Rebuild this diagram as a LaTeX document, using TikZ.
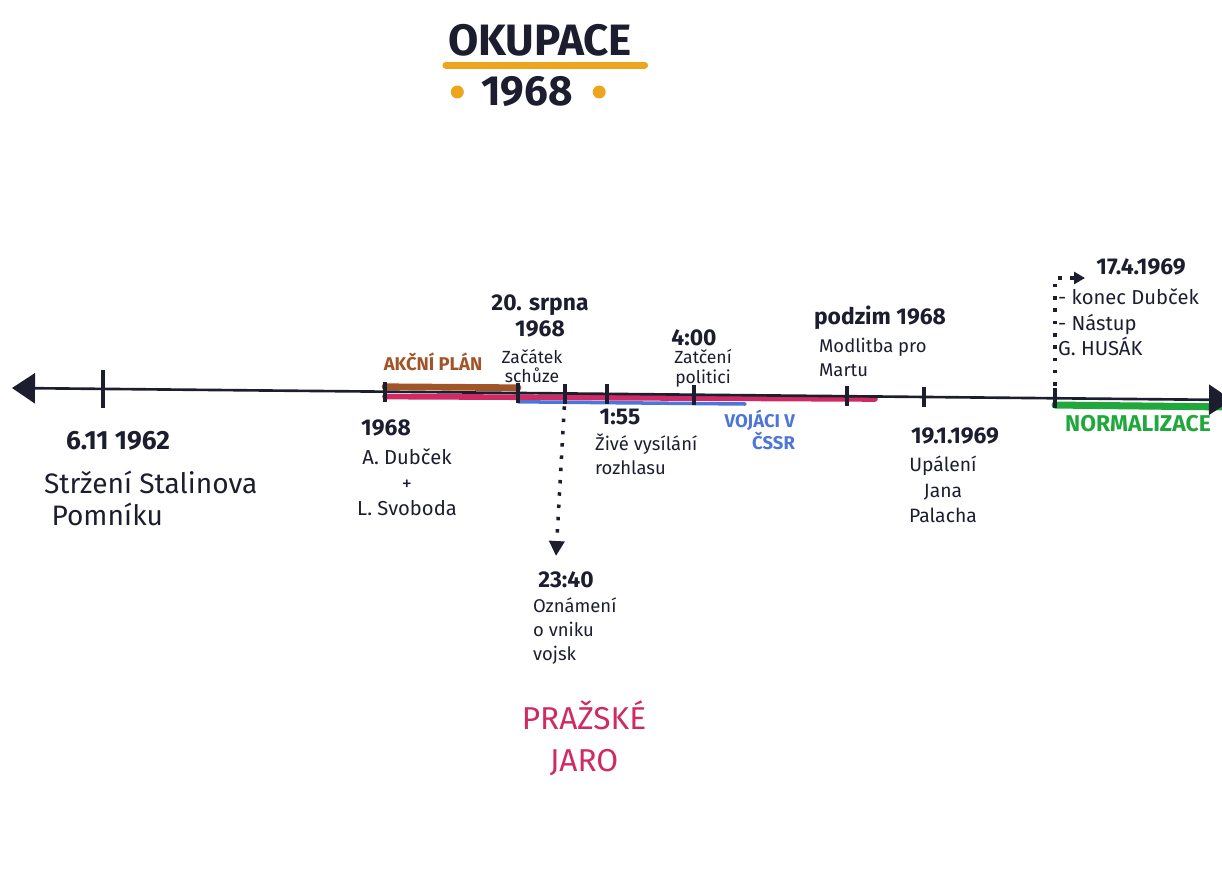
\documentclass[tikz,border=0pt]{standalone}
\usepackage{fontspec}
\setmainfont{Fira Sans}
\usetikzlibrary{arrows.meta,positioning}

\definecolor{inkoust}{RGB}{28,30,48}
\definecolor{hneda}{RGB}{160,84,40}
\definecolor{ruzova}{RGB}{208,42,100}
\definecolor{modra}{RGB}{78,118,218}
\definecolor{zelena}{RGB}{32,168,60}
\definecolor{oranzova}{RGB}{238,165,30}

\begin{document}
\begin{tikzpicture}[
    x=0.02cm, y=-0.02cm,
    every node/.style={text=inkoust, inner sep=1pt},
    titul/.style={font=\fontsize{26}{30}\selectfont},
    datum/.style={font=\bfseries\fontsize{13}{15}\selectfont, align=center},
    popis/.style={font=\fontsize{10.5}{13.5}\selectfont, align=left},
    ryska/.style={fill=inkoust, inner sep=0pt, minimum width=0.08cm, minimum height=0.4cm},
    tecka/.style={circle, fill=oranzova, inner sep=0pt, minimum size=0.26cm},
    osa/.style={line width=1.5pt, draw=inkoust,
        {Triangle[length=0.46cm,width=0.6cm]}-{Triangle[length=0.46cm,width=0.6cm]}},
    pruh/.style={line width=#1, line cap=round},
    tecky/.style={line width=2pt, draw=inkoust, dash pattern=on 2pt off 5pt,
        -{Triangle[length=0.3cm,width=0.3cm]}}
]
\useasboundingbox (0,0) rectangle (1222,895);

% Title
\node[titul, font=\bfseries\fontsize{25}{30}\selectfont] (okupace) at (540,40) {OKUPACE};
\draw[oranzova, pruh=4pt] ([yshift=-4pt]okupace.south west) -- ([xshift=6pt,yshift=-4pt]okupace.south east);
\node[titul, font=\bfseries\fontsize{24}{28}\selectfont] (rok) at (527,92) {1968};
\node[tecka, left=0.3cm of rok] (tecka1) {};
\node[tecka, right=0.35cm of rok] (tecka2) {};

% Points on the axis
\coordinate (t62)   at (103,389);
\coordinate (t68)   at (385,392);
\coordinate (tsrp)  at (518,393);
\coordinate (t2340) at (565,394);
\coordinate (t155)  at (607,394);
\coordinate (t400)  at (694,395);
\coordinate (tpod)  at (847,396);
\coordinate (t1969) at (924,397);
\coordinate (t1704) at (1055,398);

\coordinate (osa0) at (12,388);
\coordinate (osa1) at (1232,400);
\coordinate (konecjaro) at (875,399);
\coordinate (konecvoj) at (745,404);

% Periods (drawn under the axis)
\draw[hneda, pruh=3.8pt] ([yshift=3pt]t68) -- ([yshift=3pt]tsrp);
\draw[ruzova, pruh=3.2pt] ([yshift=-2.6pt]t68) -- (konecjaro);
\draw[modra, pruh=2pt] ([yshift=-5pt]tsrp) -- (konecvoj);
\draw[zelena, pruh=4pt] ([yshift=-4pt]t1704) -- ([yshift=-4pt]osa1);

% Axis and ticks
\draw[osa] (osa0) -- (osa1);
\foreach \t in {t68,tsrp,t2340,t155,t400,tpod,t1969,t1704}
    \node[ryska] at (\t) {};
\node[ryska, minimum height=0.76cm] at (t62) {};

% 1962
\node[datum, font=\bfseries\fontsize{15}{18}\selectfont] (d62) at (118,441) {6.11 1962};
\node[popis, font=\fontsize{16}{18}\selectfont, anchor=north west] (p62) at (42,469) {Stržení Stalinova\\\ Pomníku};

% 1968
\node[datum] (d68) at (386,428) {1968};
\node[popis, font=\fontsize{11.5}{14.5}\selectfont, align=center, anchor=north] (p68) at (407,447) {A. Dubček\\+\\L. Svoboda};
\node[font=\bfseries\fontsize{10.5}{12}\selectfont, text=hneda] (plan) at (433,362) {AKČNÍ PLÁN};

% 20. srpna 1968
\node[datum] (dsrp) at (540,316) {20. srpna\\1968};
\node[popis, font=\fontsize{10}{11}\selectfont, align=center] (psrp) at (532,366) {Začátek\\schůze};

% 23:40
\coordinate (k2340) at (556,556);
\draw[tecky] (t2340) -- (k2340);
\node[datum] (d2340) at (566,580) {23:40};
\node[popis, anchor=north west] (p2340) at (531,596) {Oznámení\\o vniku\\vojsk};

% 1:55
\node[datum] (d155) at (620,417) {1:55};
\node[popis, anchor=north west] (p155) at (593,432) {Živé vysílání\\rozhlasu};
\node[font=\bfseries\fontsize{10.5}{12.5}\selectfont, text=modra, align=right, anchor=north east] (voj) at (797,408) {VOJÁCI V\\ČSSR};

% 4:00
\node[datum] (d400) at (694,338) {4:00};
\node[popis, font=\fontsize{10}{11.5}\selectfont, align=center] (p400) at (703,368) {Zatčení\\politici};

% podzim 1968
\node[datum] (dpod) at (880,318) {podzim 1968};
\node[popis, anchor=north west] (ppod) at (817,336) {Modlitba pro\\Martu};

% 19.1.1969
\node[datum] (d1969) at (955,436) {19.1.1969};
\node[popis, font=\fontsize{11}{14.5}\selectfont, align=center, anchor=north] (p1969) at (943,454) {Upálení\\Jana\\Palacha};

% 17.4.1969
\coordinate (k1704) at (1085,278);
\draw[tecky, -{Triangle[length=0.22cm,width=0.24cm]}] (t1704) |- (k1704);
\node[datum] (d1704) at (1141,267) {17.4.1969};
\node[popis, font=\fontsize{11.5}{14.5}\selectfont, anchor=north west] (p1704) at (1056,287) {- konec Dubček\\- Nástup\\G. HUSÁK};
\node[font=\bfseries\fontsize{13}{15}\selectfont, text=zelena, anchor=west] (norm) at (1063,424) {NORMALIZACE};

% Prazske jaro
\node[font=\fontsize{18}{24}\selectfont, text=ruzova, align=center] (jaro) at (584,738) {PRAŽSKÉ\\JARO};

\end{tikzpicture}
\end{document}
